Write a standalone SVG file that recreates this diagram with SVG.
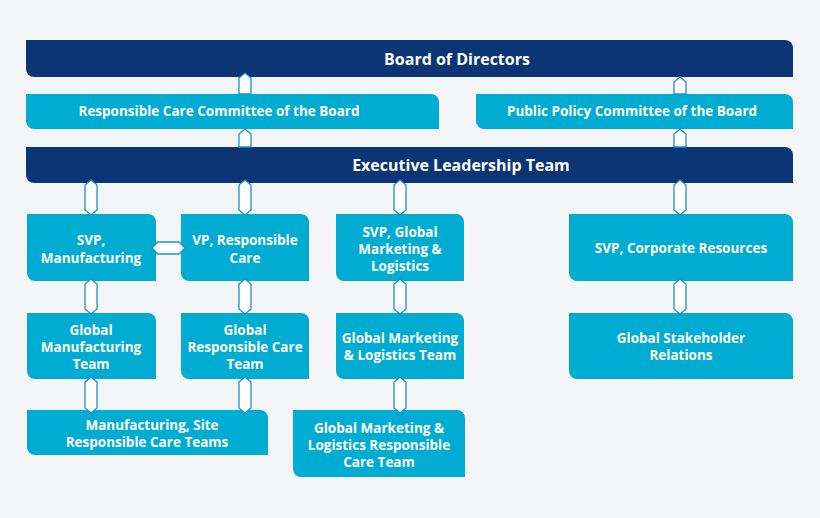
<svg xmlns="http://www.w3.org/2000/svg" width="820" height="518" viewBox="0 0 820 518">
<style>
.d{fill:#0b3575}.c{fill:#00acd2}
text{font-family:"Open Sans","Liberation Sans",sans-serif;font-weight:bold;fill:#fff;text-anchor:middle}
.t{font-size:16px}.s{font-size:13.5px}
.a{fill:#fff;stroke:#1f8fc9;stroke-width:1.3}
</style>
<rect width="820" height="518" fill="#f4f5f6"/>
<g id="board"><path class="d" d="M26,40H785a8,8 0 0 1 8,8V77H34a8,8 0 0 1 -8,-8Z"/><text class="t" x="457" y="65">Board of Directors</text></g>
<g id="rcc"><path class="c" d="M26,94H431a8,8 0 0 1 8,8V129H34a8,8 0 0 1 -8,-8Z"/><text class="s" x="219" y="116">Responsible Care Committee of the Board</text></g>
<g id="ppc"><path class="c" d="M476,94H785a8,8 0 0 1 8,8V129H484a8,8 0 0 1 -8,-8Z"/><text class="s" x="632" y="116">Public Policy Committee of the Board</text></g>
<g id="elt"><path class="d" d="M26,147H785a8,8 0 0 1 8,8V183H34a8,8 0 0 1 -8,-8Z"/><text class="t" x="461" y="171">Executive Leadership Team</text></g>
<g id="svpm"><path class="c" d="M27,214H148a8,8 0 0 1 8,8V281H35a8,8 0 0 1 -8,-8Z"/><text class="s" x="91" y="245">SVP,</text><text class="s" x="91" y="263">Manufacturing</text></g>
<g id="vprc"><path class="c" d="M181,214H301a8,8 0 0 1 8,8V281H189a8,8 0 0 1 -8,-8Z"/><text class="s" x="245" y="245">VP, Responsible</text><text class="s" x="245" y="263">Care</text></g>
<g id="svpg"><path class="c" d="M336,214H456a8,8 0 0 1 8,8V281H344a8,8 0 0 1 -8,-8Z"/><text class="s" x="400" y="237">SVP, Global</text><text class="s" x="400" y="254">Marketing &amp;</text><text class="s" x="400" y="271">Logistics</text></g>
<g id="svpc"><path class="c" d="M569,214H785a8,8 0 0 1 8,8V281H577a8,8 0 0 1 -8,-8Z"/><text class="s" x="681" y="253">SVP, Corporate Resources</text></g>
<g id="gmt"><path class="c" d="M27,313H148a8,8 0 0 1 8,8V379H35a8,8 0 0 1 -8,-8Z"/><text class="s" x="91" y="335">Global</text><text class="s" x="91" y="352">Manufacturing</text><text class="s" x="91" y="369">Team</text></g>
<g id="grc"><path class="c" d="M181,313H301a8,8 0 0 1 8,8V379H189a8,8 0 0 1 -8,-8Z"/><text class="s" x="245" y="335">Global</text><text class="s" x="245" y="352">Responsible Care</text><text class="s" x="245" y="369">Team</text></g>
<g id="gml"><path class="c" d="M336,313H456a8,8 0 0 1 8,8V379H344a8,8 0 0 1 -8,-8Z"/><text class="s" x="400" y="343">Global Marketing</text><text class="s" x="400" y="360">&amp; Logistics Team</text></g>
<g id="gsr"><path class="c" d="M569,313H785a8,8 0 0 1 8,8V379H577a8,8 0 0 1 -8,-8Z"/><text class="s" x="681" y="343">Global Stakeholder</text><text class="s" x="681" y="360">Relations</text></g>
<g id="msrc"><path class="c" d="M27,410H260a8,8 0 0 1 8,8V455H35a8,8 0 0 1 -8,-8Z"/><text class="s" x="152" y="430">Manufacturing, Site</text><text class="s" x="147" y="447">Responsible Care Teams</text></g>
<g id="gmlrc"><path class="c" d="M293,410H457a8,8 0 0 1 8,8V477H301a8,8 0 0 1 -8,-8Z"/><text class="s" x="379" y="433">Global Marketing &amp;</text><text class="s" x="379" y="450">Logistics Responsible</text><text class="s" x="379" y="467">Care Team</text></g>
<g id="connectors">
<polygon class="a" points="245,73 251,78 251,94 239,94 239,78"/>
<polygon class="a" points="245,129 251,134 251,147 239,147 239,134"/>
<polygon class="a" points="680,77 686,82 686,94 674,94 674,82"/>
<polygon class="a" points="680,129 686,134 686,147 674,147 674,134"/>
<polygon class="a" points="91,180 97,185 97,210 91,215 85,210 85,185"/>
<polygon class="a" points="245,180 251,185 251,210 245,215 239,210 239,185"/>
<polygon class="a" points="400,180 406,185 406,210 400,215 394,210 394,185"/>
<polygon class="a" points="680,180 686,185 686,210 680,215 674,210 674,185"/>
<polygon class="a" points="91,279 97,284 97,309 91,314 85,309 85,284"/>
<polygon class="a" points="245,279 251,284 251,309 245,314 239,309 239,284"/>
<polygon class="a" points="400,279 406,284 406,309 400,314 394,309 394,284"/>
<polygon class="a" points="680,279 686,284 686,309 680,314 674,309 674,284"/>
<polygon class="a" points="91,377 97,382 97,408 91,413 85,408 85,382"/>
<polygon class="a" points="245,377 251,382 251,408 245,413 239,408 239,382"/>
<polygon class="a" points="400,377 406,382 406,408 400,413 394,408 394,382"/>
<polygon class="a" points="152,248 158,242 179,242 185,248 179,254 158,254"/>
</g>
</svg>
